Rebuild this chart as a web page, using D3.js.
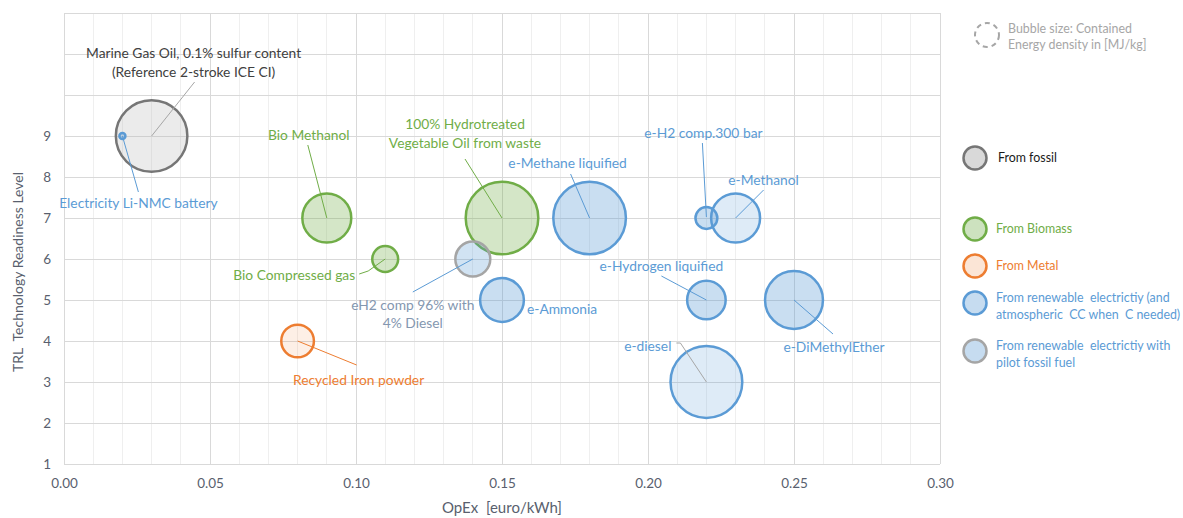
<!DOCTYPE html>
<html><head><meta charset="utf-8">
<script src="https://cdn.jsdelivr.net/npm/d3@7"></script>
<style>
body{margin:0;background:#fff;}
svg text{font-family:Lato,"Open Sans",sans-serif;}
</style></head>
<body><svg id="c" width="1183" height="518"></svg>
<script>
// ---- data ----
const names = ["Marine Gas Oil","Electricity Li-NMC battery","Bio Methanol","Bio Compressed gas","100% HVO","eH2 comp 96% with 4% Diesel","Recycled Iron powder","e-Methane liquified","e-Ammonia","e-H2 comp.300 bar","e-Methanol","e-Hydrogen liquified","e-DiMethylEther","e-diesel"];
const opex = [0.03,0.02,0.09,0.11,0.15,0.14,0.08,0.18,0.15,0.22,0.23,0.22,0.25,0.22];
const trl = [9,9,7,6,7,6,4,7,5,7,7,5,5,3];
const energyDensity = [42.7,0.3,20,5.6,44,10.2,8.9,44,16,4,20,12.4,28,43];
const groups = ["fossil","renewable","biomass","biomass","biomass","pilot","metal","renewable","renewable","renewable","renewable","renewable","renewable","renewable"];
const labelLines = [["Marine Gas Oil, 0.1% sulfur content","(Reference 2-stroke ICE CI)"],["Electricity Li-NMC battery"],["Bio Methanol"],["Bio Compressed gas"],["100% Hydrotreated","Vegetable Oil from waste"],["eH2 comp 96% with","4% Diesel"],["Recycled Iron powder"],["e-Methane liquified"],["e-Ammonia"],["e-H2 comp.300 bar"],["e-Methanol"],["e-Hydrogen liquified"],["e-DiMethylEther"],["e-diesel"]];
const xTicks = [0,0.05,0.10,0.15,0.20,0.25,0.30];
const yTicks = [1,2,3,4,5,6,7,8,9];
const legendGroups = ["fossil","biomass","metal","renewable","pilot"];
const legendLabels = [["From fossil"],["From Biomass"],["From Metal"],["From renewable  electrictiy (and","atmospheric  CC when  C needed)"],["From renewable  electrictiy with","pilot fossil fuel"]];

// ---- styles ----
const style = {
  fossil:   {stroke:"#767676", fill:"#b8b8b8", op:0.28, text:"#404040", lead:"#a6a6a6"},
  biomass:  {stroke:"#70ad47", fill:"#70ad47", op:0.3, text:"#70ad47", lead:"#70ad47"},
  metal:    {stroke:"#ed7d31", fill:"#ed7d31", op:0.12, text:"#ed7d31", lead:"#ed7d31"},
  renewable:{stroke:"#5b9bd5", fill:"#5b9bd5", op:0.33, text:"#5b9bd5", lead:"#5b9bd5"},
  pilot:    {stroke:"#a5a5a5", fill:"#5b9bd5", op:0.28, text:"#8497b0", lead:"#5b9bd5"}
};
const lighter = new Set(["e-Methanol","e-diesel"]);
// label layout: text offset (px from bubble centre), anchor, leader polyline (px offsets)
const layout = {
  "Marine Gas Oil":{dx:42,dy:-83,lh:19,anchor:"middle",lead:[[43,-54],[0,0]],lc:"#a6a6a6"},
  "Electricity Li-NMC battery":{dx:16,dy:67,anchor:"middle",lead:[[16,56],[0,0]]},
  "Bio Methanol":{dx:-18,dy:-83,anchor:"middle",lead:[[-19,-73],[0,0]]},
  "Bio Compressed gas":{dx:-30,dy:16,anchor:"end",lead:[[-26,15],[-17,12],[0,0]]},
  "100% HVO":{dx:-37,dy:-94,lh:19,anchor:"middle",lead:[[-37,-59],[0,0]]},
  "eH2 comp 96% with 4% Diesel":{dx:-60,dy:46,lh:18,anchor:"middle",lead:[[-60,33],[0,0]]},
  "Recycled Iron powder":{dx:61,dy:39,anchor:"middle",lead:[[59,24],[0,0]]},
  "e-Methane liquified":{dx:-22,dy:-55,anchor:"middle",lead:[[-19,-44],[0,0]]},
  "e-Ammonia":{dx:25,dy:9,anchor:"start",lead:null},
  "e-H2 comp.300 bar":{dx:-3,dy:-85,anchor:"middle",lead:[[-4,-75],[0,-1]]},
  "e-Methanol":{dx:28,dy:-38,anchor:"middle",lead:[[28,-28],[0,0]]},
  "e-Hydrogen liquified":{dx:-45,dy:-34,anchor:"middle",lead:[[-45,-24],[0,0]]},
  "e-DiMethylEther":{dx:40,dy:47,anchor:"middle",lead:[[39,34],[0,0]]},
  "e-diesel":{dx:-35,dy:-36,anchor:"end",lead:[[-30,-39],[-26,-39],[0,0]],lc:"#a6a6a6"}
};

const svg = d3.select("#c");
const M = {l:64,r:940,t:13,b:464};
const x = d3.scaleLinear().domain([0,0.30]).range([M.l,M.r]);
const y = d3.scaleLinear().domain([1,12]).range([M.b,M.t]);
const r = d3.scaleSqrt().domain([0,44]).range([0,36.3]);

// grid
const g = svg.append("g");
g.selectAll(".minor").data(d3.range(1,30).map(i=>i/100).filter(v=>Math.round(v*100)%5!==0))
  .join("line").attr("x1",d=>x(d)).attr("x2",d=>x(d)).attr("y1",M.t).attr("y2",M.b)
  .attr("stroke","#efefef").attr("stroke-width",1).attr("shape-rendering","crispEdges");
g.selectAll(".hmaj").data(d3.range(2,13))
  .join("line").attr("x1",M.l).attr("x2",M.r).attr("y1",d=>y(d)).attr("y2",d=>y(d))
  .attr("stroke","#d9d9d9").attr("shape-rendering","crispEdges");
g.selectAll(".vmaj").data(xTicks.slice(1))
  .join("line").attr("x1",d=>x(d)).attr("x2",d=>x(d)).attr("y1",M.t).attr("y2",M.b)
  .attr("stroke","#d9d9d9").attr("shape-rendering","crispEdges");
g.append("line").attr("x1",M.l).attr("x2",M.l).attr("y1",M.t).attr("y2",M.b).attr("stroke","#d9d9d9").attr("shape-rendering","crispEdges");
g.append("line").attr("x1",M.l).attr("x2",M.r).attr("y1",M.b).attr("y2",M.b).attr("stroke","#d9d9d9").attr("shape-rendering","crispEdges");

// axes (D3 axes, styled)
const xAxis = svg.append("g").attr("transform",`translate(0,${M.b})`)
  .call(d3.axisBottom(x).tickValues(xTicks).tickFormat(d3.format(".2f")).tickSize(0).tickPadding(14));
const yAxis = svg.append("g").attr("transform",`translate(${M.l},0)`)
  .call(d3.axisLeft(y).tickValues(yTicks).tickFormat(d3.format("d")).tickSize(0).tickPadding(13));
[xAxis,yAxis].forEach(a=>{a.select(".domain").remove();
  a.selectAll("text").attr("fill","#595f6e").style("font-size","13.5px").style("font-family","Lato,sans-serif");});

svg.append("text").attr("x",502).attr("y",513).attr("text-anchor","middle")
  .attr("fill","#595f6e").style("font-size","15px").attr("xml:space","preserve").text("OpEx  [euro/kWh]");
svg.append("text").attr("transform","translate(23,272) rotate(-90)").attr("text-anchor","middle")
  .attr("fill","#595f6e").style("font-size","14px").attr("xml:space","preserve").text("TRL  Technology Readiness Level");

// bubbles
const data = names.map((n,i)=>({name:n,x:opex[i],y:trl[i],v:energyDensity[i],g:groups[i],lines:labelLines[i]}));
const drawOrder = data.slice().sort((a,b)=>b.v-a.v);
svg.append("g").selectAll("circle").data(drawOrder).join("circle")
  .attr("cx",d=>x(d.x)).attr("cy",d=>y(d.y)).attr("r",d=>r(d.v))
  .attr("fill",d=>style[d.g].fill).attr("fill-opacity",d=>lighter.has(d.name)?0.2:style[d.g].op)
  .attr("stroke",d=>style[d.g].stroke).attr("stroke-width",2.5);

// leaders & labels
const lab = svg.append("g");
data.forEach(d=>{
  const L = layout[d.name], cx = x(d.x), cy = y(d.y), s = style[d.g];
  if(L.lead){
    lab.append("polyline").attr("points",L.lead.map(p=>[cx+p[0],cy+p[1]].join(",")).join(" "))
      .attr("fill","none").attr("stroke",L.lc||s.lead).attr("stroke-width",1);
  }
  const lh = L.lh||18;
  d.lines.forEach((t,j)=>{
    lab.append("text").attr("x",cx+L.dx).attr("y",cy+L.dy+j*lh).attr("dy","0.35em")
      .attr("text-anchor",L.anchor).attr("fill",s.text).style("font-size","13.8px").text(t);
  });
});

// bubble size note
svg.append("circle").attr("cx",987).attr("cy",35).attr("r",12).attr("fill","none")
  .attr("stroke","#a6a6a6").attr("stroke-width",2).attr("stroke-dasharray","5,4");
["Bubble size: Contained","Energy density in [MJ/kg]"].forEach((t,j)=>
  svg.append("text").attr("x",1008).attr("y",29+j*16).attr("dy","0.35em").attr("fill","#a6a6a6")
    .style("font-size","12.4px").text(t));

// legend
const legY = [158,229,266,303,351];
legendGroups.forEach((gname,i)=>{
  const s = style[gname];
  svg.append("circle").attr("cx",975).attr("cy",legY[i]).attr("r",11.5)
    .attr("fill",gname==="fossil"?"#d9d9d9":s.fill).attr("fill-opacity",gname==="fossil"?1:(gname==="metal"?0.2:0.35))
    .attr("stroke",s.stroke).attr("stroke-width",2.5);
  const lines = legendLabels[i];
  const col = gname==="fossil"?"#1a1a1a":(gname==="pilot"?"#5b9bd5":s.text);
  lines.forEach((t,j)=>{
    svg.append("text").attr("x",gname==="fossil"?998:996).attr("y",legY[i]+(lines.length>1?-5+j*16.5:0)).attr("dy","0.35em")
      .attr("fill",col).style("font-size","12.4px").attr("xml:space","preserve").text(t);
  });
});
</script></body></html>
